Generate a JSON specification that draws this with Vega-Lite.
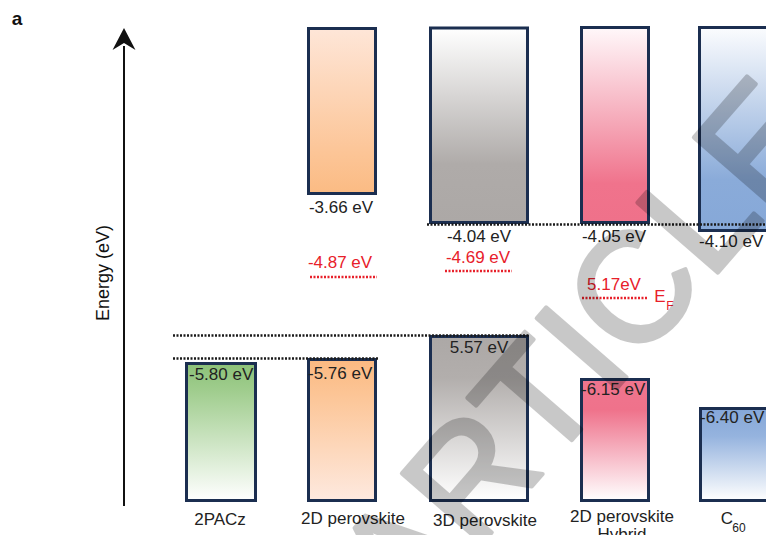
{
  "$schema": "https://vega.github.io/schema/vega-lite/v6.json",
  "width": 766,
  "height": 535,
  "autosize": {"type": "fit", "contains": "padding"},
  "padding": 0,
  "background": "white",
  "config": {"view": {"stroke": null}, "text": {"font": "Liberation Sans"}},
  "datasets": {
    "boxes": [
      {"id": "2PACz HOMO", "g": "greenH", "x": 186.5, "x2": 255.5, "y": 363.5, "y2": 500.5},
      {"id": "2D perovskite HOMO", "g": "orangeH", "x": 308.5, "x2": 375.5, "y": 359.5, "y2": 500.5},
      {"id": "2D perovskite LUMO", "g": "orangeL", "x": 308.5, "x2": 375.5, "y": 28.5, "y2": 193.5},
      {"id": "3D perovskite LUMO", "g": "grayL", "x": 430.5, "x2": 527.5, "y": 28, "y2": 222.5},
      {"id": "3D perovskite HOMO", "g": "grayH", "x": 430.5, "x2": 527.5, "y": 336.5, "y2": 500.5},
      {"id": "2D perovskite Hybrid LUMO", "g": "pinkL", "x": 581.5, "x2": 648.5, "y": 27.5, "y2": 222.5},
      {"id": "2D perovskite Hybrid HOMO", "g": "pinkH", "x": 581.5, "x2": 648.5, "y": 379.5, "y2": 500.5},
      {"id": "C60 LUMO", "g": "blueL", "x": 699.5, "x2": 780, "y": 27.5, "y2": 230.5},
      {"id": "C60 HOMO", "g": "blueH", "x": 700.5, "x2": 780, "y": 408.5, "y2": 500.5}
    ],
    "lines": [
      {"k": "black", "x": 427, "x2": 766, "y": 224.5},
      {"k": "black", "x": 173, "x2": 530, "y": 335.5},
      {"k": "black", "x": 173, "x2": 378, "y": 358.5},
      {"k": "red", "x": 310, "x2": 377, "y": 277},
      {"k": "red", "x": 445, "x2": 512, "y": 271},
      {"k": "red", "x": 582, "x2": 648, "y": 298}
    ],
    "axisline": [{"x": 124, "y": 46, "y2": 506}],
    "arrow": [{"x": 124, "y": 39}],
    "labels": [
      {"k": "c", "x": 341, "y": 208, "t": "-3.66 eV"},
      {"k": "c", "x": 479, "y": 237, "t": "-4.04 eV"},
      {"k": "c", "x": 614, "y": 237, "t": "-4.05 eV"},
      {"k": "c", "x": 479, "y": 348, "t": "5.57 eV"},
      {"k": "l", "x": 699, "y": 242, "t": "-4.10 eV"},
      {"k": "l", "x": 189, "y": 375, "t": "-5.80 eV"},
      {"k": "l", "x": 308, "y": 374, "t": "-5.76 eV"},
      {"k": "l", "x": 581, "y": 390, "t": "-6.15 eV"},
      {"k": "l", "x": 700, "y": 418, "t": "-6.40 eV"},
      {"k": "r", "x": 340, "y": 263, "t": "-4.87 eV"},
      {"k": "r", "x": 478, "y": 258, "t": "-4.69 eV"},
      {"k": "r", "x": 614, "y": 285, "t": "5.17eV"},
      {"k": "r", "x": 660, "y": 297, "t": "E"},
      {"k": "rs", "x": 670, "y": 306, "t": "F"},
      {"k": "c", "x": 220, "y": 520, "t": "2PACz"},
      {"k": "c", "x": 353, "y": 519, "t": "2D perovskite"},
      {"k": "c", "x": 485, "y": 521, "t": "3D perovskite"},
      {"k": "c", "x": 622, "y": 517, "t": "2D perovskite"},
      {"k": "c", "x": 622, "y": 535, "t": "Hybrid"},
      {"k": "c", "x": 727, "y": 519, "t": "C"},
      {"k": "s", "x": 739, "y": 528, "t": "60"},
      {"k": "b", "x": 17, "y": 19, "t": "a"},
      {"k": "v", "x": 104, "y": 273, "t": "Energy (eV)"}
    ],
    "watermark": [{"x": 620, "y": 385, "t": "ARTICLE"}]
  },
  "encoding": {
    "x": {"field": "x", "type": "quantitative", "scale": {"domain": [0, 766], "nice": false, "zero": false}, "axis": null},
    "y": {"field": "y", "type": "quantitative", "scale": {"domain": [0, 535], "nice": false, "zero": false, "reverse": true}, "axis": null}
  },
  "layer": [
    {"data": {"name": "boxes"}, "transform": [{"filter": "datum.g==='greenH'"}],
     "mark": {"type": "rect", "clip": true, "stroke": "#1b2e50", "strokeWidth": 3,
       "fill": {"gradient": "linear", "x1": 0, "y1": 0, "x2": 0, "y2": 1, "stops": [
         {"offset": 0, "color": "#8cc178"}, {"offset": 0.2, "color": "#a0cd8e"}, {"offset": 1, "color": "#ffffff"}]}},
     "encoding": {"x2": {"field": "x2"}, "y2": {"field": "y2"}}},
    {"data": {"name": "boxes"}, "transform": [{"filter": "datum.g==='orangeH'"}],
     "mark": {"type": "rect", "clip": true, "stroke": "#1b2e50", "strokeWidth": 3,
       "fill": {"gradient": "linear", "x1": 0, "y1": 0, "x2": 0, "y2": 1, "stops": [
         {"offset": 0, "color": "#fbb981"}, {"offset": 0.25, "color": "#fcc596"}, {"offset": 1, "color": "#fee9df"}]}},
     "encoding": {"x2": {"field": "x2"}, "y2": {"field": "y2"}}},
    {"data": {"name": "boxes"}, "transform": [{"filter": "datum.g==='orangeL'"}],
     "mark": {"type": "rect", "clip": true, "stroke": "#1b2e50", "strokeWidth": 3,
       "fill": {"gradient": "linear", "x1": 0, "y1": 0, "x2": 0, "y2": 1, "stops": [
         {"offset": 0, "color": "#fee6d8"}, {"offset": 0.75, "color": "#fcc597"}, {"offset": 1, "color": "#fbbb83"}]}},
     "encoding": {"x2": {"field": "x2"}, "y2": {"field": "y2"}}},
    {"data": {"name": "boxes"}, "transform": [{"filter": "datum.g==='grayL'"}],
     "mark": {"type": "rect", "clip": true, "stroke": "#1b2e50", "strokeWidth": 3,
       "fill": {"gradient": "linear", "x1": 0, "y1": 0, "x2": 0, "y2": 1, "stops": [
         {"offset": 0, "color": "#ffffff"}, {"offset": 0.7, "color": "#afaba9"}, {"offset": 1, "color": "#aca8a6"}]}},
     "encoding": {"x2": {"field": "x2"}, "y2": {"field": "y2"}}},
    {"data": {"name": "boxes"}, "transform": [{"filter": "datum.g==='grayH'"}],
     "mark": {"type": "rect", "clip": true, "stroke": "#1b2e50", "strokeWidth": 3,
       "fill": {"gradient": "linear", "x1": 0, "y1": 0, "x2": 0, "y2": 1, "stops": [
         {"offset": 0, "color": "#aca8a6"}, {"offset": 0.25, "color": "#b2aeac"}, {"offset": 1, "color": "#ffffff"}]}},
     "encoding": {"x2": {"field": "x2"}, "y2": {"field": "y2"}}},
    {"data": {"name": "boxes"}, "transform": [{"filter": "datum.g==='pinkL'"}],
     "mark": {"type": "rect", "clip": true, "stroke": "#1b2e50", "strokeWidth": 3,
       "fill": {"gradient": "linear", "x1": 0, "y1": 0, "x2": 0, "y2": 1, "stops": [
         {"offset": 0, "color": "#fff8fa"}, {"offset": 0.5, "color": "#f5a6b6"}, {"offset": 0.8, "color": "#f0738c"}, {"offset": 1, "color": "#ef718a"}]}},
     "encoding": {"x2": {"field": "x2"}, "y2": {"field": "y2"}}},
    {"data": {"name": "boxes"}, "transform": [{"filter": "datum.g==='pinkH'"}],
     "mark": {"type": "rect", "clip": true, "stroke": "#1b2e50", "strokeWidth": 3,
       "fill": {"gradient": "linear", "x1": 0, "y1": 0, "x2": 0, "y2": 1, "stops": [
         {"offset": 0, "color": "#ef758e"}, {"offset": 0.25, "color": "#ef728b"}, {"offset": 0.6, "color": "#f6b4c2"}, {"offset": 1, "color": "#ffffff"}]}},
     "encoding": {"x2": {"field": "x2"}, "y2": {"field": "y2"}}},
    {"data": {"name": "boxes"}, "transform": [{"filter": "datum.g==='blueL'"}],
     "mark": {"type": "rect", "clip": true, "stroke": "#1b2e50", "strokeWidth": 3,
       "fill": {"gradient": "linear", "x1": 0, "y1": 0, "x2": 0, "y2": 1, "stops": [
         {"offset": 0, "color": "#fbfcfe"}, {"offset": 0.75, "color": "#8aabd9"}, {"offset": 1, "color": "#86a8d8"}]}},
     "encoding": {"x2": {"field": "x2"}, "y2": {"field": "y2"}}},
    {"data": {"name": "boxes"}, "transform": [{"filter": "datum.g==='blueH'"}],
     "mark": {"type": "rect", "clip": true, "stroke": "#1b2e50", "strokeWidth": 3,
       "fill": {"gradient": "linear", "x1": 0, "y1": 0, "x2": 0, "y2": 1, "stops": [
         {"offset": 0, "color": "#85a7d8"}, {"offset": 0.3, "color": "#95b3de"}, {"offset": 1, "color": "#ffffff"}]}},
     "encoding": {"x2": {"field": "x2"}, "y2": {"field": "y2"}}},
    {"data": {"name": "lines"}, "transform": [{"filter": "datum.k==='black'"}],
     "mark": {"type": "rule", "clip": true, "color": "#1a1a1a", "strokeWidth": 2.5, "strokeDash": [2, 1.5]},
     "encoding": {"x2": {"field": "x2"}}},
    {"data": {"name": "lines"}, "transform": [{"filter": "datum.k==='red'"}],
     "mark": {"type": "rule", "clip": true, "color": "#e8202a", "strokeWidth": 2.5, "strokeDash": [2, 1.5]},
     "encoding": {"x2": {"field": "x2"}}},
    {"data": {"name": "axisline"},
     "mark": {"type": "rule", "color": "#111111", "strokeWidth": 2},
     "encoding": {"y2": {"field": "y2"}}},
    {"data": {"name": "arrow"},
     "mark": {"type": "point", "shape": "M0,-0.96L1,0.96L0,0.35L-1,0.96Z", "size": 529, "filled": true, "color": "#111111", "opacity": 1, "strokeWidth": 0}},
    {"data": {"name": "labels"}, "transform": [{"filter": "datum.k==='c'"}],
     "mark": {"type": "text", "clip": true, "fontSize": 17, "color": "#222222", "align": "center", "baseline": "middle"},
     "encoding": {"text": {"field": "t"}}},
    {"data": {"name": "labels"}, "transform": [{"filter": "datum.k==='l'"}],
     "mark": {"type": "text", "clip": true, "fontSize": 17, "color": "#222222", "align": "left", "baseline": "middle"},
     "encoding": {"text": {"field": "t"}}},
    {"data": {"name": "labels"}, "transform": [{"filter": "datum.k==='r'"}],
     "mark": {"type": "text", "clip": true, "fontSize": 17, "color": "#e8202a", "align": "center", "baseline": "middle"},
     "encoding": {"text": {"field": "t"}}},
    {"data": {"name": "labels"}, "transform": [{"filter": "datum.k==='rs'"}],
     "mark": {"type": "text", "clip": true, "fontSize": 12, "color": "#e8202a", "align": "center", "baseline": "middle"},
     "encoding": {"text": {"field": "t"}}},
    {"data": {"name": "labels"}, "transform": [{"filter": "datum.k==='s'"}],
     "mark": {"type": "text", "clip": true, "fontSize": 12, "color": "#222222", "align": "center", "baseline": "middle"},
     "encoding": {"text": {"field": "t"}}},
    {"data": {"name": "labels"}, "transform": [{"filter": "datum.k==='b'"}],
     "mark": {"type": "text", "clip": true, "fontSize": 19, "fontWeight": "bold", "color": "#111111", "align": "center", "baseline": "middle"},
     "encoding": {"text": {"field": "t"}}},
    {"data": {"name": "labels"}, "transform": [{"filter": "datum.k==='v'"}],
     "mark": {"type": "text", "clip": true, "fontSize": 18, "angle": -90, "color": "#111111", "align": "center", "baseline": "middle"},
     "encoding": {"text": {"field": "t"}}},
    {"data": {"name": "watermark"},
     "mark": {"type": "text", "clip": true, "fontSize": 155, "angle": -49, "color": "#000000", "stroke": "#000000", "strokeWidth": 4, "strokeJoin": "round", "opacity": 0.21, "align": "center", "baseline": "alphabetic"},
     "encoding": {"text": {"field": "t"}}}
  ]
}
